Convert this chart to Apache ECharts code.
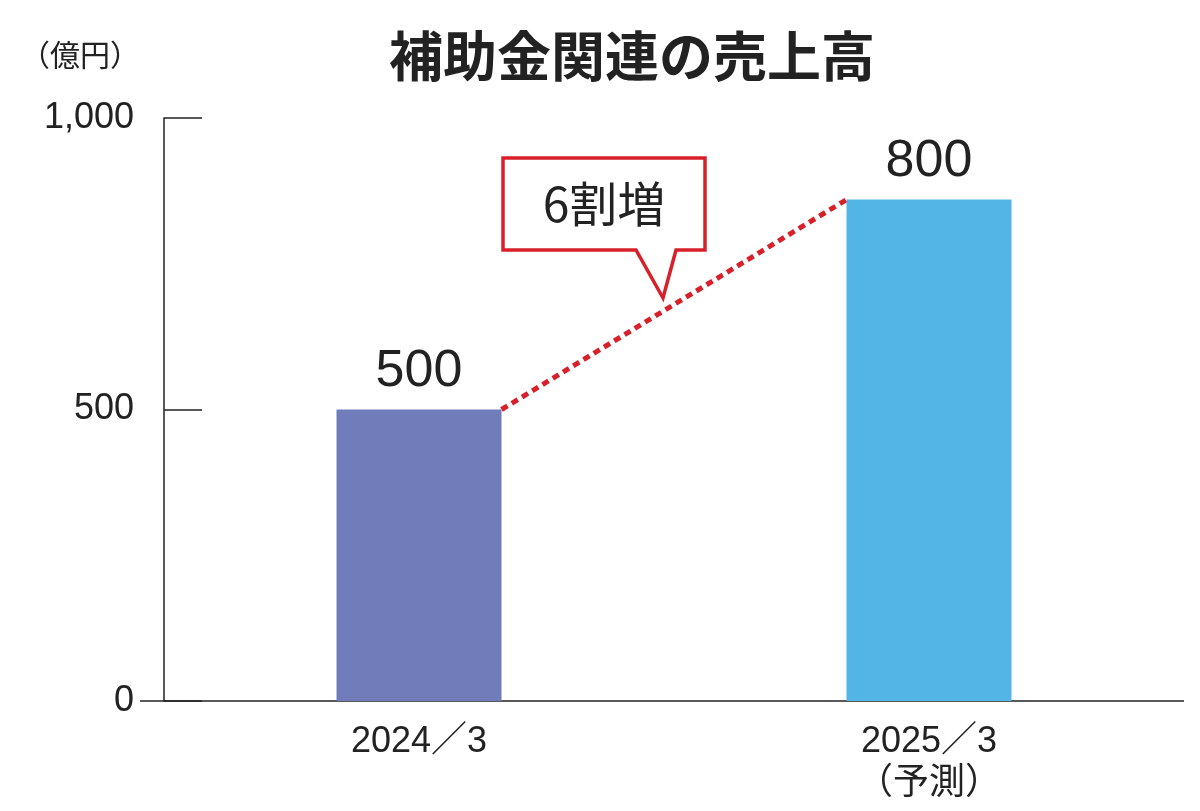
<!DOCTYPE html>
<html><head><meta charset="utf-8">
<script src="https://cdn.jsdelivr.net/npm/echarts@6/dist/echarts.min.js"></script>
<style>html,body{margin:0;background:#fff}#c{width:1200px;height:811px}</style>
</head><body><div id="c"></div>
<script>
// 売上高（億円）
var categories = ['2024／3', '2025／3\n（予測）'];
var barHeights = [500, 860];      // bar heights as drawn
var barLabels = ['500', '800'];   // printed values
var barColors = ['#717dbb', '#52b5e6'];
var yTicks = [0, 500, 1000];
var growthLabel = '6割増';

var FONT = '"Liberation Sans", Arial, "Noto Sans CJK JP", sans-serif';
var red = '#d7202a';
var chart = echarts.init(document.getElementById('c'));

chart.setOption({
  animation: false,
  grid: {left: 164, right: 16, top: 118, bottom: 110},
  title: {
    text: '補助金関連の売上高', left: 627, top: 24, textAlign: 'center',
    textStyle: {fontFamily: '"Noto Sans CJK JP"', fontWeight: 'bold', fontSize: 54, color: '#222'}
  },
  xAxis: [{
    type: 'category', data: categories,
    axisLine: {show: false}, axisTick: {show: false},
    axisLabel: {fontFamily: FONT, fontSize: 36, color: '#222', margin: 20, lineHeight: 42}
  }, {
    type: 'value', min: 0, max: 2, show: false
  }],
  yAxis: {
    type: 'value', min: 0, max: 1000, interval: 500, offset: 24,
    axisLine: {show: true, lineStyle: {color: '#222', width: 1.5}},
    axisTick: {show: true, inside: true, length: 38, lineStyle: {color: '#222', width: 1.5}},
    splitLine: {show: false},
    axisLabel: {fontFamily: FONT, fontSize: 36, color: '#222', margin: 6}
  },
  series: [{
    type: 'bar', barWidth: 165, xAxisIndex: 0,
    data: barHeights.map(function (v, i) {
      return {value: v, itemStyle: {color: barColors[i]},
        label: {show: true, position: 'top', distance: 12, formatter: barLabels[i],
          fontFamily: FONT, fontSize: 52, color: '#222'}};
    })
  }, {
    type: 'line', xAxisIndex: 1, symbol: 'none', z: 5,
    lineStyle: {color: red, width: 5, type: [7, 5]},
    data: [[0.5 + 0.1618, barHeights[0]], [1.5 - 0.1618, barHeights[1]]]
  }],
  graphic: [
    {type: 'line', shape: {x1: 140, y1: 701, x2: 1184, y2: 701}, style: {stroke: '#222', lineWidth: 1.5}},
    {type: 'text', left: 20, top: 40, style: {text: '（億円）', font: '30px "Noto Sans CJK JP"', fill: '#222'}},
    {type: 'polygon', z: 10, shape: {points: [[503, 158], [705, 158], [705, 250], [676, 250], [663, 298], [636, 250], [503, 250]]},
      style: {fill: '#fff', stroke: red, lineWidth: 3.5}},
    {type: 'text', z: 11, x: 604, y: 204, style: {text: growthLabel, font: '48px "Noto Sans CJK JP"', fill: '#222', align: 'center', verticalAlign: 'middle'}}
  ]
});
</script></body></html>
